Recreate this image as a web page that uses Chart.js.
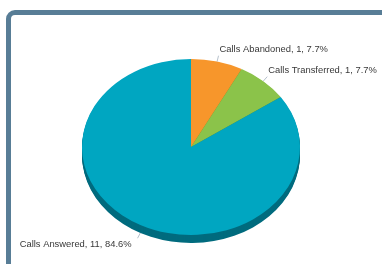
<!DOCTYPE html>
<html>
<head>
<meta charset="utf-8">
<script src="https://cdn.jsdelivr.net/npm/chart.js@4.4.0/dist/chart.umd.js"></script>
<style>
  body { margin: 0; background: #fff; overflow: hidden; }
  #frame { position: absolute; left: 6px; top: 10px; width: 400px; height: 290px; border: 5px solid #587d96; border-radius: 9px; }
  #wrap { position: absolute; left: 0; top: 0; width: 382px; height: 264px; }
</style>
</head>
<body>
<div id="frame"></div>
<div id="wrap"><canvas id="callsChart" width="382" height="264"></canvas></div>
<script>
// chart data
const categories = ['Calls Abandoned', 'Calls Transferred', 'Calls Answered'];
const callCounts = [1, 1, 11];
const sliceColors = ['#f7962b', '#8bc34a', '#00a6c1'];
const rimColors = ['#b06812', '#5c8c2c', '#006b7e'];

// 3d look
const TILT = 88 / 109;
const DEPTH = 8;

const pie3d = {
    id: 'pie3d',
    beforeDatasetsDraw(chart) {
        const ctx = chart.ctx;
        const arcs = chart.getDatasetMeta(0).data;
        const cx = arcs[0].x, cy = arcs[0].y;
        ctx.save();
        ctx.translate(cx, cy);
        ctx.scale(1, TILT);
        ctx.translate(-cx, -cy);
        // extruded side, one layer per pixel
        for (let d = DEPTH; d > 0; d--) {
            arcs.forEach(function(a, i) {
                const oy = a.y + d / TILT;
                ctx.beginPath();
                ctx.moveTo(a.x, oy);
                ctx.arc(a.x, oy, a.outerRadius, a.startAngle, a.endAngle);
                ctx.closePath();
                ctx.fillStyle = rimColors[i];
                ctx.fill();
            });
        }
    },
    afterDatasetsDraw(chart) {
        chart.ctx.restore();
    },
    afterDraw(chart) {
        const ctx = chart.ctx;
        const arcs = chart.getDatasetMeta(0).data;
        const total = callCounts.reduce(function(s, v) { return s + v; }, 0);
        ctx.save();
        ctx.font = '9.4px "Liberation Sans", Arial, sans-serif';
        ctx.textBaseline = 'middle';
        arcs.forEach(function(a, i) {
            const mid = (a.startAngle + a.endAngle) / 2;
            const c = Math.cos(mid), s = Math.sin(mid);
            const R = a.outerRadius;
            const drop = s > 0 ? DEPTH : 0;
            const x0 = a.x + R * c, y0 = a.y + R * TILT * s + drop;
            const x1 = a.x + (R + 6) * c, y1 = a.y + (R * TILT + 6) * s + drop;
            ctx.strokeStyle = '#a3b1bf';
            ctx.lineWidth = 0.8;
            ctx.beginPath();
            ctx.moveTo(x0, y0);
            ctx.lineTo(x1, y1);
            ctx.stroke();
            const pct = (callCounts[i] / total * 100).toFixed(1);
            const text = categories[i] + ', ' + callCounts[i] + ', ' + pct + '%';
            ctx.fillStyle = '#383838';
            const ty = y1 + (s > 0 ? 6 : -6.5);
            if (c >= 0) {
                ctx.textAlign = 'left';
                ctx.fillText(text, x1 + 1, ty);
            } else {
                ctx.textAlign = 'right';
                ctx.fillText(text, x1 - 6, ty);
            }
        });
        ctx.restore();
    }
};

new Chart(document.getElementById('callsChart'), {
    type: 'pie',
    data: {
        labels: categories,
        datasets: [{
            data: callCounts,
            backgroundColor: sliceColors,
            borderWidth: 0
        }]
    },
    options: {
        responsive: false,
        animation: false,
        layout: { padding: { left: 82, right: 82, top: 38, bottom: 8 } },
        plugins: {
            legend: { display: false },
            tooltip: { enabled: false }
        }
    },
    plugins: [pie3d]
});
</script>
</body>
</html>
